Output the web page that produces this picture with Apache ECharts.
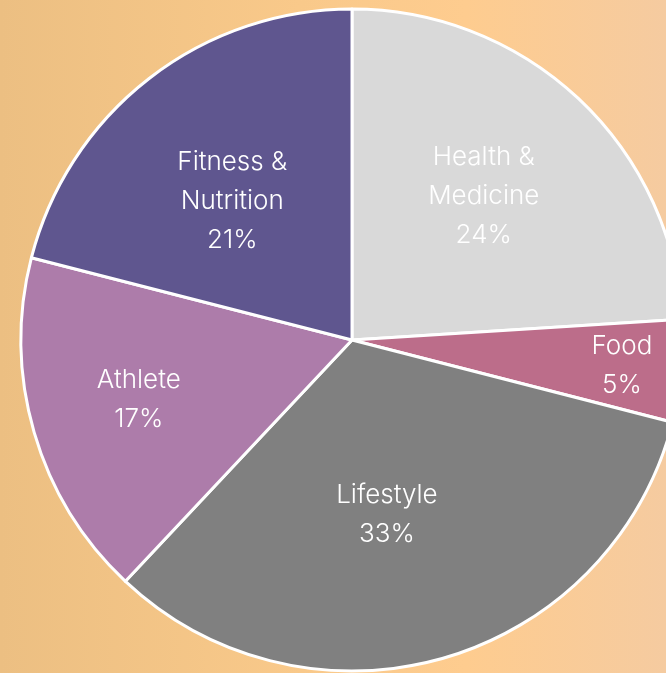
<!DOCTYPE html>
<html>
<head>
<meta charset="utf-8">
<script src="https://cdn.jsdelivr.net/npm/echarts@6/dist/echarts.min.js"></script>
<style>
  html, body { margin: 0; padding: 0; }
  #chart {
    width: 666px; height: 673px;
    background: linear-gradient(90deg, #ecbf82 0%, #f9c98a 45%, #fecc8f 70%, #f5cba0 100%);
  }
</style>
</head>
<body>
<div id="chart"></div>
<script>
const categories = ['Health &\nMedicine', 'Food', 'Lifestyle', 'Athlete', 'Fitness &\nNutrition'];
const shares = [24, 5, 33, 17, 21];
const colors = ['#d9d9d9', '#bc6d8a', '#808080', '#ad7caa', '#5f568f'];
// label placement: distance from centre (fraction of radius) and angle nudge in degrees
const labelRadius = [0.58, 0.81, 0.53, 0.66, 0.545];
const labelTurn = [-0.7, 0, 5, 0.5, -3];

const R = 331;
const total = shares.reduce((a, b) => a + b, 0);

const chart = echarts.init(document.getElementById('chart'));

let acc = 0;
const seriesData = shares.map((v, i) => {
    const mid = (acc + v / 2) / total * Math.PI * 2;
    acc += v;
    const a = mid + labelTurn[i] * Math.PI / 180;
    const half = 0.5 * R;
    const r = labelRadius[i] * R;
    return {
        name: categories[i],
        value: v,
        itemStyle: { color: colors[i] },
        label: {
            offset: [
                Math.sin(a) * r - Math.sin(mid) * half,
                -Math.cos(a) * r + Math.cos(mid) * half
            ]
        }
    };
});

chart.setOption({
    backgroundColor: 'transparent',
    animation: false,
    series: [{
        type: 'pie',
        center: [352, 340],
        radius: R,
        startAngle: 90,
        clockwise: true,
        avoidLabelOverlap: false,
        itemStyle: {
            borderColor: '#ffffff',
            borderWidth: 3
        },
        label: {
            show: true,
            position: 'inside',
            formatter: '{b}\n{c}%',
            color: '#ffffff',
            fontFamily: 'Inter',
            fontWeight: 300,
            fontSize: 26,
            lineHeight: 39,
            align: 'center'
        },
        labelLine: { show: false },
        emphasis: { disabled: true },
        data: seriesData
    }]
});

window.addEventListener('resize', function () {
    chart.resize();
});
</script>
</body>
</html>
